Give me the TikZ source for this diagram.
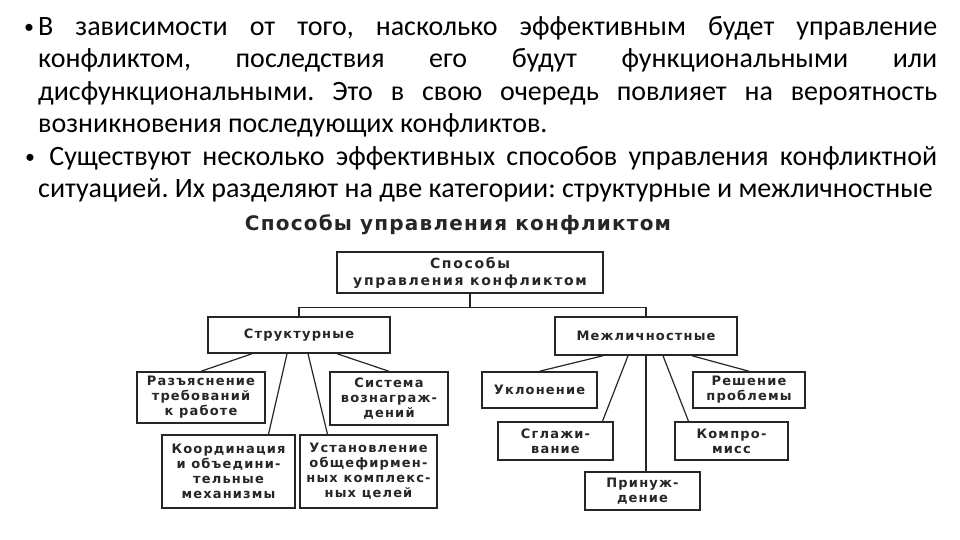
\documentclass[tikz,border=0pt]{standalone}
\usepackage{fontspec}
\setmainfont{Carlito}
\newfontfamily\schemefont[LetterSpace=9]{DejaVu Sans}
\newfontfamily\headfont[LetterSpace=12]{DejaVu Sans}
\newfontfamily\titlefont[LetterSpace=6]{DejaVu Sans}
\usepackage{tikz}
\hyphenpenalty=10000
\exhyphenpenalty=10000
\frenchspacing

\begin{document}
\begin{tikzpicture}[x=1pt, y=-1pt,
    box/.style={draw=black!85, line width=1.5pt, align=center, inner sep=1pt, text=black!85,
        font=\schemefont\bfseries\fontsize{13}{15}\selectfont},
    link/.style={draw=black!85, line width=1.2pt},
    para/.style={anchor=north west, text width=899pt, align=justify, inner sep=0pt,
        font=\fontsize{28}{32.5}\selectfont},
    dot/.style={inner sep=0pt, font=\fontsize{20}{20}\selectfont}]
    \useasboundingbox (0,0) rectangle (960,540);

    % bulleted text
    \node[dot] (dot1) at (29,29) {•};
    \node[para] (par1) at (38,16) {В зависимости от того, насколько эффективным будет управление\linebreak
        конфликтом, последствия его будут функциональными или\linebreak
        дисфункциональными. Это в свою очередь повлияет на вероятность\linebreak
        возникновения последующих конфликтов.};
    \node[dot] (dot2) at (30,159) {•};
    \node[para] (par2) at (38,146) {\ Существуют несколько эффективных способов управления конфликтной\linebreak
        ситуацией. Их разделяют на две категории: структурные и межличностные};

    % scheme title
    \node[text=black!85, font=\titlefont\bfseries\fontsize{20}{22}\selectfont] (title) at (458,225) {Способы управления конфликтом};

    % first levels
    \node[box, font=\headfont\bfseries\fontsize{14}{17}\selectfont, minimum width=266pt, minimum height=41pt] (ways) at (470,272.5) {Способы\\управления конфликтом};
    \node[box, minimum width=182pt, minimum height=36pt] (struct) at (299,335) {Структурные};
    \node[box, minimum width=182pt, minimum height=38pt] (inter) at (646,336) {Межличностные};

    % structural ways
    \node[box, minimum width=128pt, minimum height=51pt] (explain) at (201,397.5) {Разъяснение\\требований\\к работе};
    \node[box, minimum width=118pt, minimum height=53pt] (reward) at (389,398.5) {Система\\вознаграж-\\дений};
    \node[box, minimum width=133pt, minimum height=73pt] (coord) at (228.5,471.5) {Координация\\и объедини-\\тельные\\механизмы};
    \node[box, minimum width=137pt, minimum height=73pt] (goals) at (368.5,471.5) {Установление\\общефирмен-\\ных комплекс-\\ных целей};

    % interpersonal ways
    \node[box, minimum width=115pt, minimum height=36pt] (avoid) at (539.5,390) {Уклонение};
    \node[box, minimum width=115pt, minimum height=38pt] (smooth) at (555.5,441) {Сглажи-\\вание};
    \node[box, minimum width=115pt, minimum height=38pt] (force) at (642.5,491) {Принуж-\\дение};
    \node[box, minimum width=113pt, minimum height=38pt] (compromise) at (731.5,441) {Компро-\\мисс};
    \node[box, minimum width=112pt, minimum height=36pt] (solve) at (749,390) {Решение\\проблемы};

    % tree lines
    \draw[link] (ways.south) -- ++(0,14) -| (struct.north);
    \draw[link] (ways.south) -- ++(0,14) -| (inter.north);

    \draw[link] ([xshift=-47pt]struct.south) -- (explain.north);
    \draw[link] ([xshift=-12pt]struct.south) -- ([xshift=40pt]coord.north);
    \draw[link] ([xshift=9pt]struct.south) -- ([xshift=-41pt]goals.north);
    \draw[link] ([xshift=38pt]struct.south) -- (reward.north);

    \draw[link] ([xshift=-43pt]inter.south) -- (avoid.north);
    \draw[link] ([xshift=-18pt]inter.south) -- ([xshift=47pt]smooth.north);
    \draw[link] (inter.south) -- (inter.south |- force.north);
    \draw[link] ([xshift=17pt]inter.south) -- ([xshift=-43pt]compromise.north);
    \draw[link] ([xshift=46pt]inter.south) -- (solve.north);
\end{tikzpicture}
\end{document}
